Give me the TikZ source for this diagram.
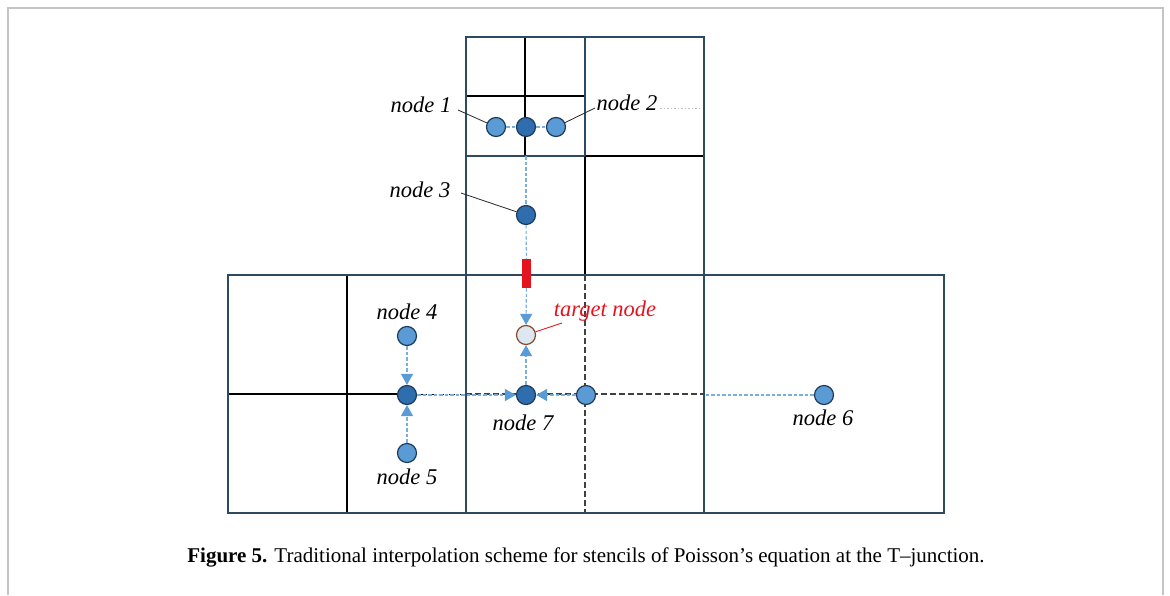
\documentclass[tikz,border=0pt]{standalone}
\usepackage{fontspec}
\setmainfont{Liberation Serif}
\usetikzlibrary{arrows.meta}
\definecolor{slate}{HTML}{2E4A62}
\definecolor{ptborder}{HTML}{1F3B5C}
\definecolor{ptmid}{HTML}{5B9BD5}
\definecolor{ptdark}{HTML}{2E6DAE}
\definecolor{arrowblue}{HTML}{5B9BD5}
\definecolor{dashblue}{HTML}{7AAEDD}
\definecolor{tgtfill}{HTML}{DDE7F2}
\definecolor{tgtborder}{HTML}{8A4A2A}
\definecolor{tgtred}{HTML}{E3141E}
\definecolor{pageborder}{HTML}{C4C4C4}
\definecolor{griddash}{HTML}{404040}
\begin{document}
\begin{tikzpicture}[x=1pt,y=-1pt,
  frameline/.style={draw=slate,line width=1.8pt},
  gridline/.style={draw=black,line width=1.3pt},
  griddashed/.style={draw=griddash,line width=1.1pt,dash pattern=on 6pt off 3pt},
  bluedash/.style={draw=dashblue,line width=1.1pt,dash pattern=on 3.5pt off 2pt},
  bluearrow/.style={bluedash,-{Triangle[width=12pt,length=11pt,fill=arrowblue,color=arrowblue]}},
  ptmidstyle/.style={circle,draw=ptborder,line width=1.2pt,fill=ptmid,minimum size=19pt,inner sep=0pt},
  ptdarkstyle/.style={circle,draw=ptborder,line width=1.2pt,fill=ptdark,minimum size=19pt,inner sep=0pt},
  tgtstyle/.style={circle,draw=tgtborder,line width=1.2pt,fill=tgtfill,minimum size=19pt,inner sep=0pt},
  lbl/.style={font=\fontsize{22.5}{26}\selectfont\itshape,inner sep=0pt},
  leader/.style={draw=black!85,line width=0.8pt},
]
\useasboundingbox (0,0) rectangle (1170,595);
% page border
\draw[pageborder,line width=2pt] (7.5,595) -- (7.5,7.5) -- (1163,7.5) -- (1163,595);

% ---- upper tower grid
\draw[gridline] (525,37) -- (525,156);
\draw[gridline] (466,96) -- (585,96);
\draw[gridline] (585,156) -- (704,156);
\draw[gridline] (585,156) -- (585,275);
\draw[frameline] (585,37) -- (585,156);
\draw[frameline] (466,156) -- (585,156);
\draw[frameline] (466,37) rectangle (704,275);

% ---- lower region grid
\draw[gridline] (347,275) -- (347,513);
\draw[gridline] (228,394) -- (400,394);
\draw[draw=black,line width=1pt,dash pattern=on 2pt off 1.5pt] (400,394) -- (466,394);
\draw[griddashed] (585,275) -- (585,513);
\draw[griddashed] (466,394) -- (704,394);
\draw[frameline] (466,275) -- (466,513);
\draw[frameline] (704,275) -- (704,513);
\draw[frameline] (228,275) rectangle (944,513);

% faint dotted trace right of node 2
\draw[black!25,line width=0.8pt,dash pattern=on 1.5pt off 2pt] (660,108) -- (700,108);

% ---- points
\node[ptmidstyle]  (n1) at (496,127) {};
\node[ptdarkstyle] (nc) at (526,127) {};
\node[ptmidstyle]  (n2) at (556,127) {};
\node[ptdarkstyle] (n3) at (526,215) {};
\node[fill=tgtred,minimum width=9pt,minimum height=29pt,inner sep=0pt] (red) at (526.5,273.5) {};
\node[tgtstyle]    (tg) at (526,335) {};
\node[ptmidstyle]  (n4) at (407,336) {};
\node[ptdarkstyle] (nl) at (407,395) {};
\node[ptmidstyle]  (n5) at (407,453) {};
\node[ptdarkstyle] (n7) at (526,395) {};
\node[ptmidstyle]  (nr) at (586,395) {};
\node[ptmidstyle]  (n6) at (824,395) {};
\coordinate (cut) at (526,156);

% ---- connectors
\draw[bluedash] (n1) -- (nc);
\draw[bluedash] (nc) -- (n2);
\draw[bluedash] (cut) -- (n3);
\draw[bluedash] (n3) -- (red);
\draw[bluearrow] (red) -- (tg);
\draw[bluearrow] (n7) -- (tg);
\draw[bluearrow] (n4) -- (nl);
\draw[bluearrow] (n5) -- (nl);
\draw[bluearrow] (nl) -- (n7);
\draw[bluearrow] (nr) -- (n7);
\draw[bluedash] (n6) -- (704,395);

% ---- labels
\node[lbl] (l1) at (421,105) {node 1};
\node[lbl] (l2) at (627,103) {node 2};
\node[lbl] (l3) at (420,190) {node 3};
\node[lbl] (l4) at (407,312) {node 4};
\node[lbl] (l5) at (407,477) {node 5};
\node[lbl] (l7) at (523,423) {node 7};
\node[lbl] (l6) at (823,418) {node 6};
\node[lbl,text=tgtred] (lt) at (605,311) {target node};
\coordinate (a1) at (458,110);
\coordinate (a2) at (595,108);
\coordinate (a3) at (461,193);
\coordinate (at) at (562,323);
\draw[leader] (a1) -- (n1);
\draw[leader] (a2) -- (n2);
\draw[leader] (a3) -- (n3);
\draw[draw=tgtred,line width=0.9pt] (at) -- (tg);

% ---- caption
\node[inner sep=0pt,font=\fontsize{21}{25}\selectfont] (cap) at (586,557)
  {\textbf{Figure 5.} Traditional interpolation scheme for stencils of Poisson’s equation at the T–junction.};
\end{tikzpicture}
\end{document}
